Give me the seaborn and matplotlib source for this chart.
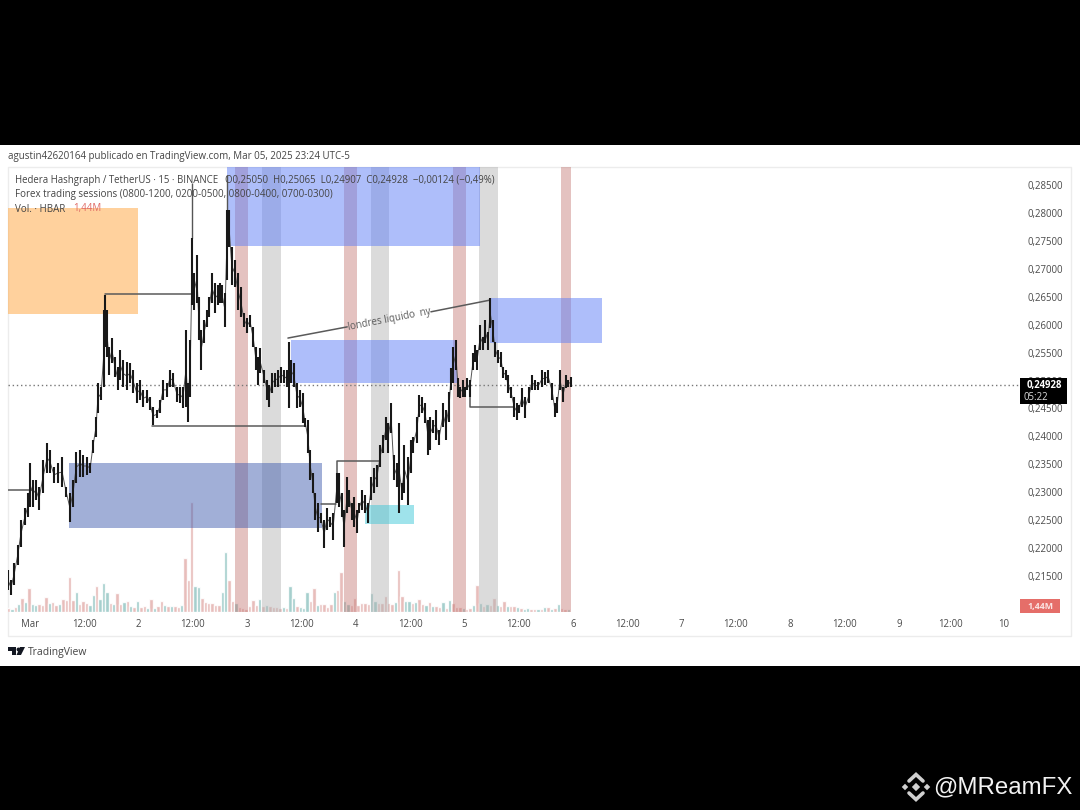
import numpy as np
import pandas as pd
import matplotlib
matplotlib.use('Agg')
import matplotlib.pyplot as plt
from matplotlib.patches import Rectangle, Polygon
import seaborn as sns

# bars, hours counted from Mar 1 00:00
bar_hours = [
    -4.9, -4.2, -3.5, -2.7, -2.0, -1.1, -0.4, 0.0, 0.7, 1.3,
    2.0, 2.9, 3.8, 4.4, 5.3, 6.2, 7.1, 8.0, 8.8, 9.5,
    10.2, 11.1, 11.7, 12.6, 13.3, 13.9, 14.6, 15.0, 15.7, 16.4,
    16.6, 17.0, 17.5, 18.1, 18.8, 19.4, 19.9, 20.6, 21.4, 22.1,
    22.8, 23.6, 24.3, 25.0, 25.9, 26.5, 27.2, 28.1, 28.7, 29.4,
    30.3, 30.9, 31.6, 32.5, 33.2, 33.8, 34.5, 34.9, 35.4, 35.8,
    36.2, 36.9, 37.3, 37.8, 38.5, 39.1, 39.6, 40.2, 40.9, 41.5,
    42.0, 42.4, 43.1, 43.5, 44.0, 44.6, 45.3, 46.0, 46.6, 47.3,
    48.0, 48.6, 49.3, 49.9, 50.4, 50.8, 51.7, 52.4, 52.8, 53.5,
    54.1, 54.8, 55.5, 56.1, 56.8, 57.2, 57.7, 58.3, 59.0, 59.7,
    60.3, 60.8, 61.4, 61.9, 62.5, 63.0, 63.6, 64.3, 65.0, 65.6,
    66.3, 67.0, 67.8, 68.3, 68.9, 69.4, 70.1, 70.5, 71.2, 71.6,
    72.3, 72.7, 73.4, 74.0, 74.7, 75.4, 76.0, 76.7, 77.4, 78.0,
    78.7, 79.1, 79.8, 80.4, 81.1, 81.5, 82.2, 82.7, 83.5, 84.2,
    84.6, 85.5, 86.0, 86.6, 87.3, 88.0, 88.4, 89.1, 89.7, 90.4,
    91.3, 91.9, 92.6, 93.0, 93.5, 94.1, 94.6, 95.0, 95.7, 96.1,
    96.6, 97.2, 97.9, 98.3, 98.8, 99.5, 100.1, 100.6, 101.2, 101.7,
    102.3, 102.8, 103.4, 104.1, 104.5, 105.2, 105.6, 106.3, 107.0, 107.6,
    108.1, 108.7, 109.4, 110.3, 110.9, 111.6, 112.3, 113.2, 113.8, 114.5,
    115.4, 116.0, 116.5, 117.1, 117.8, 118.5, 118.9, 119.6,
]
bar_high = [
    .2161, .2143, .2173, .2206, .2250, .2272, .2299, .2352, .2322, .2322,
    .2309, .2358, .2388, .2376, .2345, .2352, .2363, .2309, .2299, .2322,
    .2372, .2376, .2367, .2363, .2352, .2394, .2435, .2496, .2488, .2626,
    .2653, .2626, .2560, .2576, .2542, .2524, .2555, .2537, .2533, .2531,
    .2519, .2496, .2501, .2483, .2483, .2471, .2453, .2447, .2465, .2501,
    .2496, .2519, .2513, .2488, .2488, .2488, .2590, .2496, .2573, .2755,
    .2693, .2725, .2650, .2590, .2608, .2626, .2650, .2693, .2675, .2671,
    .2675, .2671, .2657, .2805, .2805, .2739, .2716, .2693, .2667, .2621,
    .2612, .2617, .2596, .2560, .2542, .2558, .2519, .2501, .2492, .2513,
    .2513, .2519, .2524, .2519, .2519, .2569, .2537, .2531, .2496, .2483,
    .2478, .2433, .2429, .2376, .2334, .2299, .2281, .2263, .2250, .2272,
    .2256, .2263, .2334, .2334, .2299, .2268, .2327, .2304, .2281, .2291,
    .2268, .2281, .2304, .2295, .2281, .2327, .2343, .2349, .2385, .2403,
    .2435, .2424, .2460, .2367, .2352, .2424, .2317, .2385, .2363, .2394,
    .2399, .2435, .2474, .2471, .2460, .2429, .2435, .2429, .2447, .2411,
    .2460, .2447, .2479, .2522, .2560, .2573, .2505, .2488, .2501, .2488,
    .2505, .2501, .2549, .2564, .2555, .2599, .2578, .2608, .2587, .2648,
    .2608, .2569, .2555, .2551, .2524, .2519, .2510, .2488, .2471, .2460,
    .2456, .2487, .2471, .2488, .2510, .2501, .2497, .2519, .2515, .2519,
    .2496, .2460, .2471, .2519, .2488, .2510, .2501, .2506,
]
bar_low = [
    .2125, .2116, .2134, .2170, .2202, .2241, .2255, .2274, .2274, .2286,
    .2268, .2299, .2334, .2334, .2317, .2317, .2309, .2291, .2247, .2274,
    .2317, .2327, .2327, .2331, .2334, .2370, .2399, .2442, .2465, .2488,
    .2560, .2542, .2510, .2531, .2506, .2483, .2501, .2488, .2483, .2495,
    .2478, .2460, .2465, .2453, .2460, .2447, .2420, .2433, .2442, .2465,
    .2471, .2488, .2488, .2462, .2460, .2451, .2453, .2426, .2471, .2635,
    .2626, .2639, .2573, .2519, .2567, .2596, .2614, .2639, .2621, .2635,
    .2639, .2639, .2596, .2680, .2739, .2671, .2667, .2626, .2614, .2596,
    .2585, .2596, .2560, .2519, .2492, .2513, .2496, .2465, .2453, .2478,
    .2488, .2488, .2496, .2496, .2488, .2451, .2496, .2488, .2451, .2453,
    .2424, .2417, .2370, .2322, .2299, .2250, .2229, .2245, .2200, .2233,
    .2238, .2215, .2281, .2274, .2256, .2202, .2263, .2274, .2250, .2238,
    .2227, .2263, .2268, .2263, .2245, .2286, .2299, .2309, .2345, .2370,
    .2394, .2370, .2406, .2322, .2309, .2263, .2286, .2299, .2277, .2334,
    .2370, .2388, .2435, .2442, .2424, .2367, .2376, .2406, .2394, .2385,
    .2417, .2394, .2426, .2483, .2496, .2519, .2471, .2469, .2471, .2471,
    .2483, .2471, .2519, .2533, .2519, .2555, .2555, .2567, .2555, .2594,
    .2569, .2542, .2531, .2524, .2505, .2501, .2478, .2469, .2435, .2429,
    .2442, .2453, .2433, .2460, .2483, .2483, .2483, .2488, .2492, .2496,
    .2465, .2435, .2442, .2483, .2462, .2487, .2488, .2488,
]
# the long thin wicks
wick_hours = [35.8, 43.5]
wick_high = [.2854, .2868]
wick_low = [.2755, .2805]

# volume in millions, one value every 45 minutes from 19:15 the day before
volume = [
    1.8, 1.4, 2.2, 3.6, 6.3, 4.5, 10.8, 3.6, 3.2, 3.6,
    3.2, 6.8, 4.0, 4.5, 3.2, 3.6, 5.9, 5.4, 15.8, 5.4,
    9.0, 3.6, 5.0, 4.0, 3.2, 7.7, 11.7, 5.9, 13.0, 9.0,
    4.0, 3.6, 8.6, 3.6, 4.5, 5.0, 2.7, 2.2, 5.0, 2.2,
    2.7, 1.8, 5.9, 1.8, 2.7, 5.0, 3.2, 2.7, 2.7, 2.7,
    2.2, 3.2, 24.3, 14.4, 49.5, 11.7, 11.3, 6.3, 4.5, 4.0,
    4.0, 3.2, 3.2, 9.0, 27.0, 14.4, 5.0, 4.0, 2.2, 1.8,
    1.4, 2.7, 5.4, 3.2, 5.9, 2.7, 3.2, 2.7, 2.2, 2.2,
    1.8, 2.2, 1.8, 11.7, 6.3, 2.7, 2.2, 1.8, 9.0, 5.0,
    10.8, 3.2, 3.6, 3.6, 2.2, 3.6, 9.0, 9.9, 18.0, 5.0,
    3.6, 3.2, 6.3, 3.2, 4.0, 4.0, 3.6, 8.6, 5.0, 4.0,
    4.0, 7.2, 4.0, 3.6, 4.5, 18.9, 7.2, 5.0, 5.0, 4.0,
    4.5, 5.9, 3.6, 3.2, 4.5, 2.7, 2.7, 2.2, 4.5, 1.8,
    5.4, 4.0, 2.2, 2.2, 1.8, 1.4, 1.8, 3.2, 12.2, 4.0,
    2.7, 3.6, 3.2, 6.3, 3.2, 2.7, 5.0, 2.7, 2.7, 2.7,
    2.2, 1.8, 1.4, 1.8, 1.4, 1.4, 1.4, 1.4, 2.2, 2.2,
    1.4, 1.8, 3.6, 1.8, 1.4, 1.44,
]
volume_side = list(
    'dudududuud' 'dduddudddd' 'uddduuduuu' 'duddududud' 'dududdudud'
    'duddduuddd' 'ddduuddudd' 'ddddududdd' 'duduuduuud' 'dudddduddu'
    'udddddduud' 'ddddudduud' 'uddududdud' 'uddduddudu' 'dudduddudd'
    'uduuddudud' 'ududdu'
)

# sessions on the chart, hours
red_start = [45.3, 69.4, 93.5, 117.3]
red_end = [48.2, 72.3, 96.4, 119.6]
grey_start = [51.3, 75.4, 99.2]
grey_end = [55.5, 79.4, 103.4]

# drawn zones: start, end, top, bottom
zone_start = [-4.9, 43.5, 57.7, 101.7, 8.6, 74.0]
zone_end = [23.9, 99.4, 94.4, 126.4, 64.5, 84.9]
zone_top = [.2809, .2882, .2573, .2648, .2352, .2277]
zone_bottom = [.2619, .2741, .2496, .2568, .2236, .2244]
zone_kind = ['orange', 'blue', 'blue', 'blue', 'navy', 'cyan']

# drawn trend lines, each one a list of points
line_hours = [
    [16.6, 35.8], [27.0, 60.8], [-4.9, 0.6],
    [67.8, 67.8, 77.4], [64.3, 67.6],
    [97.2, 97.2, 106.9],
    [57.0, 70.1], [88.6, 101.7],
]
line_price = [
    [.2655, .2655], [.2419, .2419], [.2304, .2304],
    [.2305, .2356, .2356], [.2279, .2279],
    [.2492, .2453, .2453],
    [.2576, .2596], [.2623, .2644],
]

price_ticks = [.285, .28, .275, .27, .265, .26, .255, .25, .245, .24, .235, .23, .225, .22, .215]
price_labels = ['0,28500', '0,28000', '0,27500', '0,27000', '0,26500', '0,26000', '0,25500', '0,25000',
                '0,24500', '0,24000', '0,23500', '0,23000', '0,22500', '0,22000', '0,21500']
time_ticks = [0, 12, 24, 36, 48, 60, 72, 84, 96, 108, 120, 132, 144, 156, 168, 180, 192, 203.4, 215.2]
time_labels = ['Mar', '12:00', '2', '12:00', '3', '12:00', '4', '12:00', '5', '12:00', '6',
               '12:00', '7', '12:00', '8', '12:00', '9', '12:00', '10']
last_price = 0.24928

W, H = 1080, 810
sns.set_theme(style='white')
plt.rcParams['font.family'] = ['Open Sans', 'DejaVu Sans']

fig = plt.figure(figsize=(W / 100, H / 100), dpi=100, facecolor='black')


def rect_px(x0, y0, x1, y1):
    return [x0 / W, 1 - y1 / H, (x1 - x0) / W, (y1 - y0) / H]


# page behind the chart
bg = fig.add_axes([0, 0, 1, 1], zorder=-1)
bg.set_xlim(0, W)
bg.set_ylim(H, 0)
bg.axis('off')
bg.add_patch(Rectangle((0, 145), W, 521, fc='white', ec='none'))
bg.add_patch(Rectangle((8, 167), 1063, 469, fc='white', ec='#ececec', lw=1))

# price pane, x in hours and y in price
ax = fig.add_axes(rect_px(8, 167, 1071, 636), zorder=1)
ax.patch.set_alpha(0)
ax.set_xlim(-4.862, 230.05)
ax.set_ylim(.285 - 451 / 5586, .285 + 18 / 5586)

for a, b in zip(red_start, red_end):
    ax.axvspan(a, b, ymin=24 / 469, color='#bf6f6b', alpha=.42, lw=0, zorder=1)
for a, b in zip(grey_start, grey_end):
    ax.axvspan(a, b, ymin=24 / 469, color='#b0b0b0', alpha=.45, lw=0, zorder=1)

zone_colors = {'orange': ('#ffb35c', .6), 'blue': ('#5f7ff7', .5), 'navy': ('#4560b0', .5), 'cyan': ('#40c8d8', .5)}
for a, b, t, d, k in zip(zone_start, zone_end, zone_top, zone_bottom, zone_kind):
    ax.add_patch(Rectangle((a, d), b - a, t - d, fc=zone_colors[k][0], alpha=zone_colors[k][1], ec='none', zorder=2))

ax.axhline(last_price, color='#777777', lw=1, ls=(0, (1, 2)), zorder=3, xmax=1010 / 1063)

for hx, hy in zip(line_hours, line_price):
    ax.plot(hx, hy, color='#5a5a5a', lw=1.1, zorder=3)

bars = pd.DataFrame({'hours': bar_hours, 'high': bar_high, 'low': bar_low})
bars['mid'] = (bars['high'] + bars['low']) / 2
ax.vlines(wick_hours, wick_low, wick_high, color='#555555', lw=1, zorder=4)
ax.vlines(bars['hours'], bars['low'], bars['high'], color='#181818', lw=1.5, zorder=5)
sns.lineplot(data=bars, x='hours', y='mid', color='#555555', lw=0.7, ax=ax, zorder=4, sort=False, errorbar=None)

ax.set_xticks(time_ticks, labels=time_labels)
ax.set_yticks(price_ticks, labels=price_labels)
ax.yaxis.tick_right()
ax.tick_params(axis='y', length=0, pad=-31, labelsize=6.9, labelcolor='#4a4a4a')
ax.tick_params(axis='x', length=0, pad=-12.5, labelsize=6.9, labelcolor='#4a4a4a')
ax.set_xlabel('')
ax.set_ylabel('')
for s in ax.spines.values():
    s.set_visible(False)

# volume pane on the same time scale
vol_ax = fig.add_axes(rect_px(8, 167, 1071, 612), zorder=0.5)
vol_ax.patch.set_alpha(0)
vol = pd.DataFrame({'hours': -4.75 + 0.75 * np.arange(len(volume)), 'volume': volume, 'side': volume_side})
sns.barplot(data=vol, x='hours', y='volume', hue='side', palette={'u': '#8fcfcc', 'd': '#eeaaa6'},
            dodge=False, native_scale=True, legend=False, alpha=.85, width=1.0, ax=vol_ax)
vol_ax.set_xlim(ax.get_xlim())
vol_ax.set_ylim(0, 200)
vol_ax.axis('off')

# labels over everything
top = fig.add_axes([0, 0, 1, 1], zorder=10)
top.set_xlim(0, W)
top.set_ylim(H, 0)
top.axis('off')
top.patch.set_alpha(0)
dark = '#444444'
top.text(8, 157, 'agustin42620164 publicado en TradingView.com, Mar 05, 2025 23:24 UTC-5',
         fontsize=7.05, color=dark, va='center')
top.text(15, 180, 'Hedera Hashgraph / TetherUS · 15 · BINANCE', fontsize=6.95, color=dark, va='center')
top.text(225, 180, 'O0,25050  H0,25065  L0,24907  C0,24928  −0,00124 (−0,49%)', fontsize=6.95, color=dark, va='center')
top.text(15, 195, 'Forex trading sessions (0800-1200, 0200-0500, 0800-0400, 0700-0300)',
         fontsize=7.0, color=dark, va='center')
top.text(15, 209, 'Vol. · HBAR', fontsize=7.0, color=dark, va='center')
top.text(73, 209, '1,44M', fontsize=7.0, color='#e06a64', va='center')
top.text(389, 320, 'londres liquido  ny', fontsize=7.0, color='#5a5a5a', rotation=11, ha='center', va='center')

top.add_patch(Rectangle((1020, 378), 47, 26, fc='black', ec='none'))
top.text(1044, 385.5, '0,24928', fontsize=6.9, color='white', fontweight='bold', ha='center', va='center')
top.text(1036, 397.5, '05:22', fontsize=6.9, color='#dddddd', ha='center', va='center')
top.add_patch(Rectangle((1020, 599), 40, 14, fc='#e56e69', ec='none'))
top.text(1040, 606, '1,44M', fontsize=6.4, color='#fbe4e3', fontweight='bold', ha='center', va='center')

# TradingView mark
top.add_patch(Polygon([(8, 647), (16, 647), (16, 655), (12, 655), (12, 651), (8, 651)], fc='#131722', ec='none'))
top.add_patch(Polygon([(20, 647), (25, 647), (21, 655), (16.5, 655)], fc='#131722', ec='none'))
top.scatter([18], [649], s=8, color='#131722', lw=0)
top.text(28, 652, 'TradingView', fontsize=7.5, color=dark, va='center')

# binance mark and handle
mark = '#d0d0d0'
top.scatter([905, 916, 927], [787, 787, 787], marker='D', s=[11, 18, 11], color=mark, lw=0)
top.plot([909, 916, 923], [781, 774.5, 781], color=mark, lw=2.6, solid_joinstyle='miter')
top.plot([909, 916, 923], [793, 799.5, 793], color=mark, lw=2.6, solid_joinstyle='miter')
top.text(933, 787, '@MReamFX', family='Liberation Sans', fontsize=17.3, color='#f2f2f2', va='center')

fig.savefig('out.png', dpi=100, facecolor='black')
